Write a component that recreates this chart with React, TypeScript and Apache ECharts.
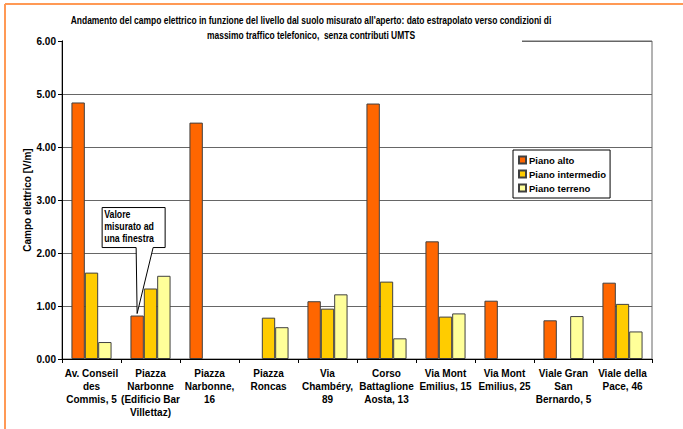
import React, { useEffect, useRef } from "react";
import * as echarts from "echarts";

const categories = [
  "Av. Conseil\ndes\nCommis, 5",
  "Piazza\nNarbonne\n(Edificio Bar\nVillettaz)",
  "Piazza\nNarbonne,\n16",
  "Piazza\nRoncas",
  "Via\nChambéry,\n89",
  "Corso\nBattaglione\nAosta, 13",
  "Via Mont\nEmilius, 15",
  "Via Mont\nEmilius, 25",
  "Viale Gran\nSan\nBernardo, 5",
  "Viale della\nPace, 46",
];
const seriesNames = ["Piano alto", "Piano intermedio", "Piano terreno"];
const pianoAlto = [4.84, 0.82, 4.46, null, 1.09, 4.82, 2.22, 1.1, 0.73, 1.44];
const pianoIntermedio = [1.63, 1.33, null, 0.78, 0.95, 1.46, 0.8, null, null, 1.04];
const pianoTerreno = [0.32, 1.57, null, 0.6, 1.22, 0.39, 0.86, null, 0.81, 0.52];
const yTicks = [0, 1, 2, 3, 4, 5, 6];
const titleLines = [
  "Andamento del campo elettrico in funzione del livello dal suolo misurato all'aperto: dato estrapolato verso condizioni di",
  "massimo traffico telefonico,  senza contributi UMTS",
];
const calloutText = "Valore\nmisurato ad\nuna finestra";

const colors = ["#FF6600", "#FFCC00", "#FFFF99"];
const FONT = "'Liberation Sans', Arial, sans-serif";
const GAP = 0.32;

export default function App() {
  const ref = useRef<HTMLDivElement>(null);
  useEffect(() => {
    if (!ref.current) return;
    const chart = echarts.init(ref.current, undefined, { renderer: "svg" });
    const barSeries = [pianoAlto, pianoIntermedio, pianoTerreno].map((d, i) => ({
      name: seriesNames[i],
      type: "bar" as const,
      data: d,
      barGap: "0%",
      barCategoryGap: GAP * 100 + "%",
      itemStyle: { color: colors[i], borderColor: "#404040", borderWidth: 1 },
    }));
    chart.setOption({
      animation: false,
      backgroundColor: "#ffffff",
      grid: {
        left: 62,
        right: 31,
        top: 41,
        bottom: 70,
        show: true,
        borderColor: "#666",
        borderWidth: 1,
        backgroundColor: "transparent",
      },
      legend: {
        orient: "vertical",
        left: 513,
        top: 150,
        backgroundColor: "#fff",
        borderColor: "#000",
        borderWidth: 1,
        padding: [5, 4, 5, 5],
        itemGap: 4,
        itemWidth: 7,
        itemHeight: 7,
        icon: "rect",
        textStyle: { fontFamily: FONT, fontWeight: "bold", fontSize: 9.5, color: "#000", padding: [0, 0, 0, -2] },
        data: seriesNames,
      },
      xAxis: {
        type: "category",
        data: categories,
        axisLine: { lineStyle: { color: "#000" } },
        axisTick: { show: true, length: 4, lineStyle: { color: "#000" } },
        axisLabel: {
          interval: 0,
          fontFamily: FONT,
          fontWeight: "bold",
          fontSize: 10,
          color: "#000",
          lineHeight: 13,
          margin: 8,
        },
      },
      yAxis: {
        type: "value",
        min: 0,
        max: 6,
        interval: 1,
        name: "Campo elettrico [V/m]",
        nameLocation: "middle",
        nameGap: 30,
        nameMoveOverlap: false,
        nameTextStyle: { fontFamily: FONT, fontWeight: "bold", fontSize: 10, color: "#000" },
        axisLine: { show: true, lineStyle: { color: "#000" } },
        axisTick: { show: true, length: 4, lineStyle: { color: "#000" } },
        splitLine: { lineStyle: { color: "#666", width: 1 } },
        axisLabel: {
          fontFamily: FONT,
          fontWeight: "bold",
          fontSize: 10,
          color: "#000",
          margin: 6,
          customValues: yTicks,
          formatter: (v: number) => v.toFixed(2),
        },
      },
      series: barSeries,
    });

    const c0 = chart.convertToPixel({ xAxisIndex: 0 }, 0) as number;
    const c1 = chart.convertToPixel({ xAxisIndex: 0 }, 1) as number;
    const band = c1 - c0;
    const barW = (band * (1 - GAP)) / 3;
    const tipX = c1 - barW;
    const tipY = chart.convertToPixel({ yAxisIndex: 0 }, pianoAlto[1] as number) as number;
    const bx0 = tipX - 35, bx1 = tipX + 28, by0 = tipY - 108, by1 = tipY - 68;
    const topY = chart.convertToPixel({ yAxisIndex: 0 }, 6) as number;

    chart.setOption({
      graphic: [
        {
          type: "line",
          z: 200,
          shape: { x1: 5, y1: 4, x2: 683, y2: 4 },
          style: { stroke: "#FF9955", lineWidth: 2 },
        },
        {
          type: "line",
          z: 200,
          shape: { x1: 5, y1: 4, x2: 5, y2: 429 },
          style: { stroke: "#FF9955", lineWidth: 2 },
        },
        {
          type: "rect",
          z: 100,
          shape: { x: 63, y: topY - 3, width: 459, height: 6 },
          style: { fill: "#fff" },
        },
        {
          type: "text",
          z: 101,
          x: 311,
          y: 13,
          scaleX: 0.77,
          style: {
            text: titleLines.join("\n"),
            fontFamily: FONT,
            fontWeight: "bold",
            fontSize: 11,
            lineHeight: 15,
            align: "center",
            fill: "#000",
          },
        },
        {
          type: "polygon",
          z: 110,
          shape: {
            points: [
              [bx0, by0],
              [bx1, by0],
              [bx1, by1],
              [tipX + 16, by1],
              [tipX, tipY - 2],
              [tipX - 1, by1],
              [bx0, by1],
            ],
          },
          style: { fill: "#fff", stroke: "#000", lineWidth: 1 },
        },
        {
          type: "text",
          z: 111,
          x: bx0 + 2,
          y: by0 + 1,
          scaleX: 0.88,
          style: {
            text: calloutText,
            fontFamily: FONT,
            fontWeight: "bold",
            fontSize: 10,
            lineHeight: 12,
            fill: "#000",
          },
        },
      ],
    });
    return () => chart.dispose();
  }, []);
  return (
    <div
      ref={ref}
      style={{ position: "fixed", left: 0, top: 0, width: 683, height: 429 }}
    />
  );
}
